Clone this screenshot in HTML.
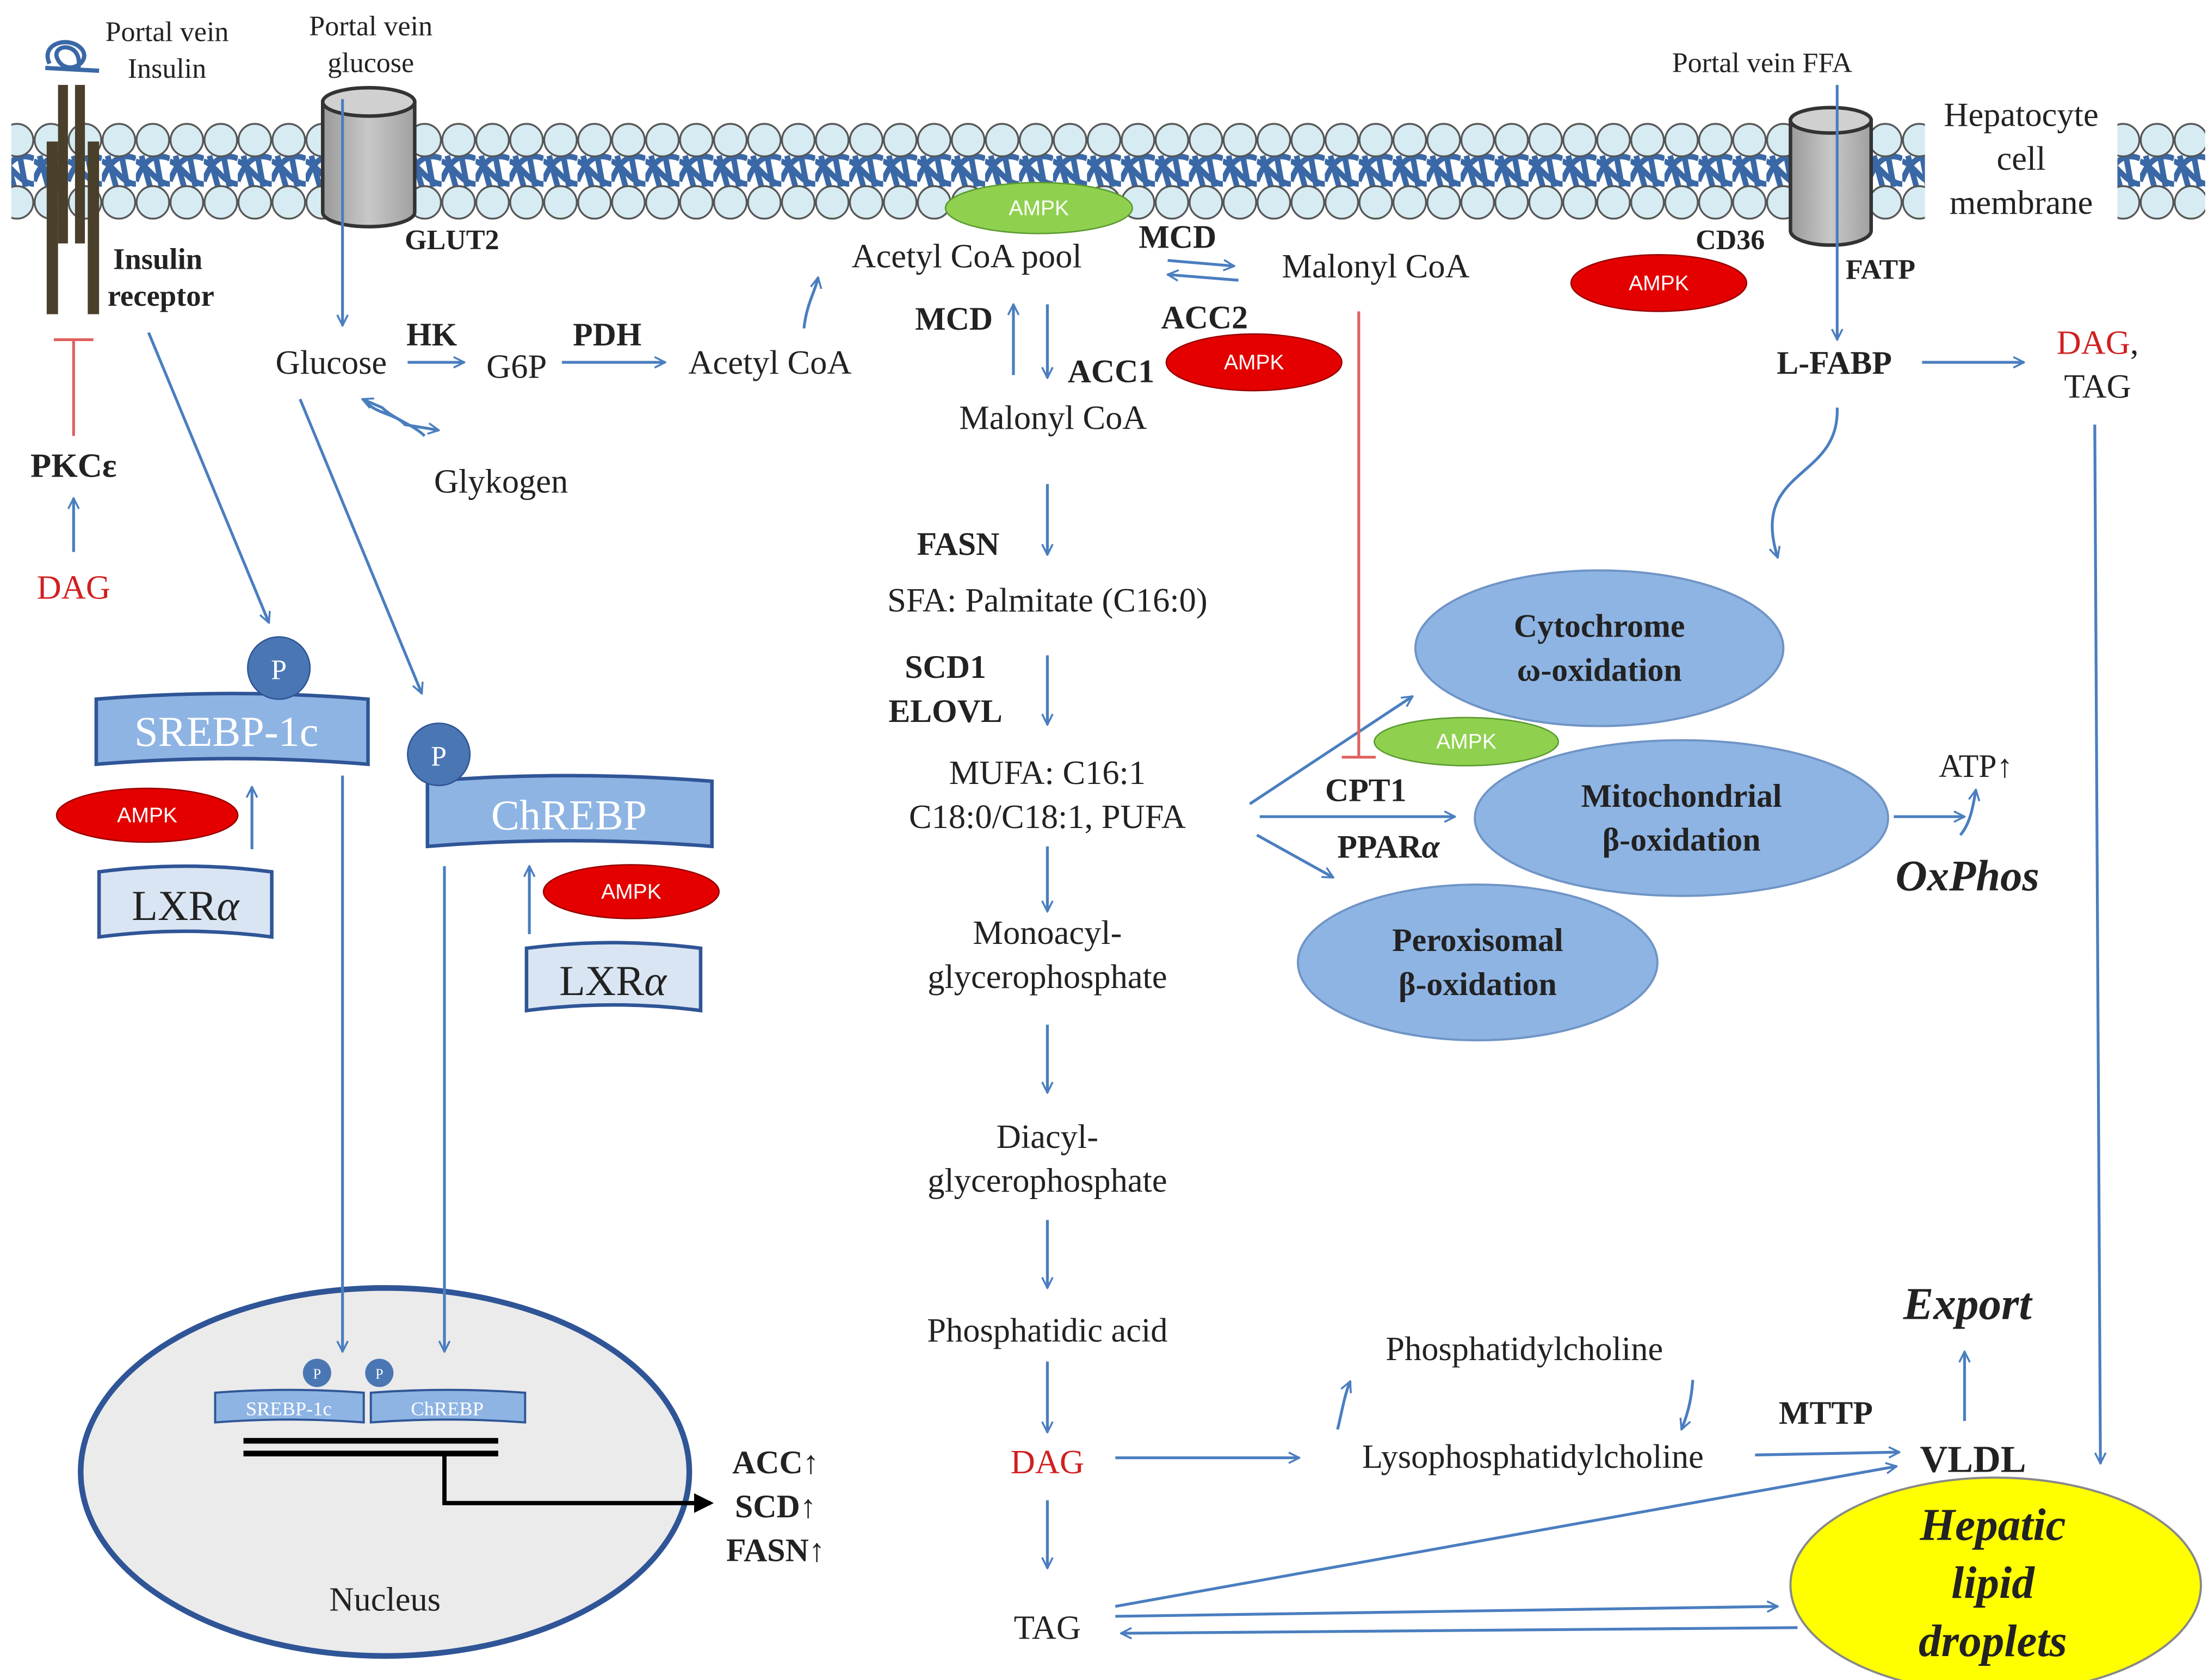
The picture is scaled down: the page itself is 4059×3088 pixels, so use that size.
<!DOCTYPE html>
<html><head><meta charset="utf-8">
<style>
html,body{margin:0;padding:0;background:#fff;}
svg{display:block;}
text{font-family:"Liberation Serif",serif;fill:#222;}
.b{font-weight:bold;}
</style></head>
<body>
<svg width="4059" height="3088" viewBox="0 0 1560 1187" preserveAspectRatio="none" xmlns="http://www.w3.org/2000/svg">
<defs>
<marker id="a" viewBox="0 0 12 12" refX="11" refY="6" markerWidth="9" markerHeight="9" orient="auto" markerUnits="userSpaceOnUse">
<path d="M1 1 L11 6 L1 11" fill="none" stroke="#4a7ebf" stroke-width="1.8"/></marker>
<marker id="k" viewBox="0 0 12 12" refX="10" refY="6" markerWidth="14" markerHeight="14" orient="auto" markerUnits="userSpaceOnUse">
<path d="M0 0 L12 6 L0 12 Z" fill="#000"/></marker>
<pattern id="mem" x="0" y="86" width="24" height="70" patternUnits="userSpaceOnUse">
<path d="M0 42 C6 26 14 22 24 26 M0 28 C8 30 14 44 24 44 M4 24 L10 46 M14 24 L18 46" fill="none" stroke="#3a68a6" stroke-width="4"/>
<circle cx="12" cy="13" r="11.5" fill="#d6ebf2" stroke="#555" stroke-width="1.3"/>
<circle cx="12" cy="57" r="11.5" fill="#d6ebf2" stroke="#555" stroke-width="1.3"/>
</pattern>
<linearGradient id="cyl" x1="0" x2="1"><stop offset="0" stop-color="#9a9a9a"/><stop offset="0.5" stop-color="#c8c8c8"/><stop offset="1" stop-color="#a0a0a0"/></linearGradient>
</defs>
<rect width="1560" height="1187" fill="#fff"/>
<!-- membrane -->
<rect x="8" y="86" width="1550" height="70" fill="url(#mem)"/>
<rect x="1360" y="64" width="136" height="92" fill="#fff"/>

<!-- insulin receptor -->
<rect x="33" y="100" width="8" height="122" fill="#4a3f2a"/>
<rect x="62" y="100" width="8" height="122" fill="#4a3f2a"/>
<rect x="41" y="60" width="7" height="112" fill="#4a3f2a"/>
<rect x="53" y="60" width="7" height="112" fill="#4a3f2a"/>
<path d="M35 45 C28 30 50 25 58 35 C65 45 45 55 40 40 C38 30 60 30 55 50 M32 48 L70 50" fill="none" stroke="#3a68a6" stroke-width="3"/>

<!-- GLUT2 cylinder -->
<path d="M228 72 L228 150 A32 10 0 0 0 293 150 L293 72 Z" fill="url(#cyl)" stroke="#333" stroke-width="2.5"/>
<ellipse cx="260.5" cy="72" rx="32.5" ry="10" fill="#d0d0d0" stroke="#333" stroke-width="2.5"/>
<!-- CD36 cylinder -->
<path d="M1265 85 L1265 163 A28 10 0 0 0 1322 163 L1322 85 Z" fill="url(#cyl)" stroke="#333" stroke-width="2.5"/>
<ellipse cx="1293.5" cy="85" rx="28.5" ry="9" fill="#d0d0d0" stroke="#333" stroke-width="2.5"/>

<!-- ellipses -->
<g stroke="#6f94c6" stroke-width="1.5" fill="#8eb4e3">
<ellipse cx="1130" cy="458" rx="130" ry="55"/>
<ellipse cx="1188" cy="578" rx="146" ry="55"/>
<ellipse cx="1044" cy="680" rx="127" ry="55"/>
</g>
<ellipse cx="1410" cy="1120" rx="145" ry="76" fill="#ffff00" stroke="#888" stroke-width="1.5"/>
<ellipse cx="272" cy="1040" rx="215" ry="130" fill="#ebebeb" stroke="#2f5597" stroke-width="4"/>

<!-- AMPK -->
<g font-size="15" text-anchor="middle">
<ellipse cx="734" cy="147" rx="66" ry="18" fill="#8fd14f" stroke="#5a9a30"/><text x="734" y="152" style="fill:#fff;font-family:'Liberation Sans',sans-serif">AMPK</text>
<ellipse cx="1036" cy="524" rx="65" ry="17" fill="#8fd14f" stroke="#5a9a30"/><text x="1036" y="529" style="fill:#fff;font-family:'Liberation Sans',sans-serif">AMPK</text>
<ellipse cx="1172" cy="200" rx="62" ry="20" fill="#e50000" stroke="#900"/><text x="1172" y="205" style="fill:#fff;font-family:'Liberation Sans',sans-serif">AMPK</text>
<ellipse cx="886" cy="256" rx="62" ry="20" fill="#e50000" stroke="#900"/><text x="886" y="261" style="fill:#fff;font-family:'Liberation Sans',sans-serif">AMPK</text>
<ellipse cx="104" cy="576" rx="64" ry="19" fill="#e50000" stroke="#900"/><text x="104" y="581" style="fill:#fff;font-family:'Liberation Sans',sans-serif">AMPK</text>
<ellipse cx="446" cy="630" rx="62" ry="19" fill="#e50000" stroke="#900"/><text x="446" y="635" style="fill:#fff;font-family:'Liberation Sans',sans-serif">AMPK</text>
</g>

<!-- banners -->
<path d="M68 494 Q164 486 260 494 L260 540 Q164 532 68 540 Z" fill="#8eb4e3" stroke="#2f5597" stroke-width="2.5"/>
<circle cx="197" cy="472" r="22" fill="#4a77b4" stroke="#2f5597"/><text x="197" y="480" font-size="20" text-anchor="middle" style="fill:#fff">P</text>
<text x="160" y="527" font-size="30" text-anchor="middle" style="fill:#fff">SREBP-1c</text>
<path d="M302 552 Q402 544 503 552 L503 598 Q402 590 302 598 Z" fill="#8eb4e3" stroke="#2f5597" stroke-width="2.5"/>
<circle cx="310" cy="533" r="22" fill="#4a77b4" stroke="#2f5597"/><text x="310" y="541" font-size="20" text-anchor="middle" style="fill:#fff">P</text>
<text x="402" y="586" font-size="30" text-anchor="middle" style="fill:#fff">ChREBP</text>
<path d="M70 616 Q131 608 192 616 L192 662 Q131 654 70 662 Z" fill="#dae5f3" stroke="#2f5597" stroke-width="2.5"/>
<text x="131" y="650" font-size="30" text-anchor="middle">LXR<tspan font-style="italic">α</tspan></text>
<path d="M372 670 Q433 662 495 670 L495 714 Q433 706 372 714 Z" fill="#dae5f3" stroke="#2f5597" stroke-width="2.5"/>
<text x="433" y="703" font-size="30" text-anchor="middle">LXR<tspan font-style="italic">α</tspan></text>

<!-- nucleus contents -->
<path d="M152 984 Q204 980 257 984 L257 1005 Q204 1001 152 1005 Z" fill="#8eb4e3" stroke="#2f5597" stroke-width="1.5"/>
<text x="204" y="1000" font-size="14" text-anchor="middle" style="fill:#fff">SREBP-1c</text>
<path d="M262 984 Q316 980 371 984 L371 1005 Q316 1001 262 1005 Z" fill="#8eb4e3" stroke="#2f5597" stroke-width="1.5"/>
<text x="316" y="1000" font-size="14" text-anchor="middle" style="fill:#fff">ChREBP</text>
<circle cx="224" cy="970" r="10" fill="#4a77b4"/><text x="224" y="974" font-size="10" text-anchor="middle" style="fill:#fff">P</text>
<circle cx="268" cy="970" r="10" fill="#4a77b4"/><text x="268" y="974" font-size="10" text-anchor="middle" style="fill:#fff">P</text>
<line x1="172" y1="1018" x2="352" y2="1018" stroke="#000" stroke-width="4"/>
<line x1="172" y1="1027" x2="352" y2="1027" stroke="#000" stroke-width="4"/>
<path d="M314 1027 L314 1062 L502 1062" fill="none" stroke="#000" stroke-width="3" marker-end="url(#k)"/>
<text x="272" y="1138" font-size="24" text-anchor="middle">Nucleus</text>

<!-- blue arrows -->
<g stroke="#4a7ebf" stroke-width="2" fill="none" marker-end="url(#a)">
<line x1="242" y1="70" x2="242" y2="230"/>
<line x1="105" y1="235" x2="190" y2="440"/>
<line x1="212" y1="282" x2="298" y2="490"/>
<line x1="52" y1="390" x2="52" y2="352"/>
<line x1="178" y1="600" x2="178" y2="556"/>
<line x1="374" y1="660" x2="374" y2="612"/>
<line x1="242" y1="548" x2="242" y2="955"/>
<line x1="314" y1="612" x2="314" y2="955"/>
<line x1="288" y1="256" x2="328" y2="256"/>
<line x1="397" y1="256" x2="470" y2="256"/>
<path d="M568 232 C570 214 576 206 578 196"/>
<line x1="716" y1="265" x2="716" y2="215"/>
<line x1="740" y1="215" x2="740" y2="267"/>
<line x1="825" y1="184" x2="872" y2="188"/>
<line x1="875" y1="198" x2="825" y2="194"/>
<line x1="740" y1="342" x2="740" y2="392"/>
<line x1="740" y1="463" x2="740" y2="512"/>
<line x1="740" y1="598" x2="740" y2="644"/>
<line x1="740" y1="724" x2="740" y2="772"/>
<line x1="740" y1="862" x2="740" y2="910"/>
<line x1="740" y1="962" x2="740" y2="1012"/>
<line x1="740" y1="1060" x2="740" y2="1108"/>
<line x1="883" y1="568" x2="998" y2="492"/>
<line x1="890" y1="577" x2="1028" y2="577"/>
<line x1="888" y1="590" x2="942" y2="620"/>
<line x1="1338" y1="577" x2="1388" y2="577"/>
<path d="M1385 590 C1392 582 1394 570 1396 558"/>
<line x1="1298" y1="60" x2="1298" y2="240"/>
<line x1="1358" y1="256" x2="1430" y2="256"/>
<path d="M1298 288 C1300 340 1236 330 1256 394"/>
<line x1="1480" y1="300" x2="1484" y2="1034"/>
<line x1="788" y1="1030" x2="918" y2="1030"/>
<path d="M945 1010 C948 998 950 985 954 976"/>
<path d="M1196 975 C1195 990 1192 1000 1188 1010"/>
<line x1="1240" y1="1028" x2="1342" y2="1026"/>
<line x1="1388" y1="1004" x2="1388" y2="955"/>
<line x1="788" y1="1135" x2="1340" y2="1036"/>
<line x1="788" y1="1142" x2="1256" y2="1135"/>
<line x1="1270" y1="1150" x2="792" y2="1154"/>
<path d="M258 282 C262 292 280 292 286 300 L310 304" />
<path d="M300 308 C292 300 278 296 270 288 L256 282" />
</g>
<!-- inhibition lines -->
<g stroke="#e06060" stroke-width="2">
<line x1="52" y1="308" x2="52" y2="240"/><line x1="38" y1="240" x2="66" y2="240"/>
<line x1="960" y1="220" x2="960" y2="535"/><line x1="948" y1="535" x2="972" y2="535"/>
</g>

<!-- labels -->
<g font-size="22">
<text x="118" y="29" text-anchor="middle" font-size="20">Portal vein</text>
<text x="118" y="55" text-anchor="middle" font-size="20">Insulin</text>
<text x="262" y="25" text-anchor="middle" font-size="20">Portal vein</text>
<text x="262" y="51" text-anchor="middle" font-size="20">glucose</text>
<text x="1245" y="51" text-anchor="middle" font-size="20">Portal vein FFA</text>
<text x="1428" y="89" text-anchor="middle" font-size="24">Hepatocyte</text>
<text x="1428" y="120" text-anchor="middle" font-size="24">cell</text>
<text x="1428" y="151" text-anchor="middle" font-size="24">membrane</text>
<text x="286" y="176" class="b" font-size="20">GLUT2</text>
<text x="1198" y="176" class="b" font-size="20">CD36</text>
<text x="1304" y="197" class="b" font-size="20">FATP</text>
<text x="80" y="190" class="b" font-size="21">Insulin</text>
<text x="76" y="216" class="b" font-size="21">receptor</text>
<text x="52" y="337" text-anchor="middle" class="b" font-size="24">PKCε</text>
<text x="52" y="423" text-anchor="middle" font-size="24" style="fill:#d02020">DAG</text>
<text x="234" y="264" text-anchor="middle" font-size="24">Glucose</text>
<text x="305" y="244" text-anchor="middle" class="b" font-size="23">HK</text>
<text x="365" y="267" text-anchor="middle" font-size="24">G6P</text>
<text x="429" y="244" text-anchor="middle" class="b" font-size="23">PDH</text>
<text x="544" y="264" text-anchor="middle" font-size="24">Acetyl CoA</text>
<text x="354" y="348" text-anchor="middle" font-size="24">Glykogen</text>
<text x="683" y="189" text-anchor="middle" font-size="24">Acetyl CoA pool</text>
<text x="832" y="175" text-anchor="middle" class="b" font-size="23">MCD</text>
<text x="972" y="196" text-anchor="middle" font-size="24">Malonyl CoA</text>
<text x="674" y="233" text-anchor="middle" class="b" font-size="23">MCD</text>
<text x="851" y="232" text-anchor="middle" class="b" font-size="23">ACC2</text>
<text x="785" y="270" text-anchor="middle" class="b" font-size="23">ACC1</text>
<text x="744" y="303" text-anchor="middle" font-size="24">Malonyl CoA</text>
<text x="677" y="392" text-anchor="middle" class="b" font-size="23">FASN</text>
<text x="740" y="432" text-anchor="middle" font-size="24">SFA: Palmitate (C16:0)</text>
<text x="668" y="479" text-anchor="middle" class="b" font-size="23">SCD1</text>
<text x="668" y="510" text-anchor="middle" class="b" font-size="23">ELOVL</text>
<text x="740" y="554" text-anchor="middle" font-size="24">MUFA: C16:1</text>
<text x="740" y="585" text-anchor="middle" font-size="24">C18:0/C18:1, PUFA</text>
<text x="740" y="667" text-anchor="middle" font-size="24">Monoacyl-</text>
<text x="740" y="698" text-anchor="middle" font-size="24">glycerophosphate</text>
<text x="740" y="811" text-anchor="middle" font-size="24">Diacyl-</text>
<text x="740" y="842" text-anchor="middle" font-size="24">glycerophosphate</text>
<text x="740" y="948" text-anchor="middle" font-size="24">Phosphatidic acid</text>
<text x="740" y="1041" text-anchor="middle" font-size="24" style="fill:#d02020">DAG</text>
<text x="740" y="1158" text-anchor="middle" font-size="24">TAG</text>
<text x="965" y="566" text-anchor="middle" class="b" font-size="23">CPT1</text>
<text x="981" y="606" text-anchor="middle" class="b" font-size="23">PPAR<tspan font-style="italic">α</tspan></text>
<text x="1130" y="450" text-anchor="middle" class="b" font-size="23">Cytochrome</text>
<text x="1130" y="481" text-anchor="middle" class="b" font-size="23">ω-oxidation</text>
<text x="1188" y="570" text-anchor="middle" class="b" font-size="23">Mitochondrial</text>
<text x="1188" y="601" text-anchor="middle" class="b" font-size="23">β-oxidation</text>
<text x="1044" y="672" text-anchor="middle" class="b" font-size="23">Peroxisomal</text>
<text x="1044" y="703" text-anchor="middle" class="b" font-size="23">β-oxidation</text>
<text x="1396" y="549" text-anchor="middle" font-size="23">ATP↑</text>
<text x="1390" y="629" text-anchor="middle" class="b" font-style="italic" font-size="31">OxPhos</text>
<text x="1296" y="264" text-anchor="middle" class="b" font-size="23">L-FABP</text>
<text x="1482" y="250" text-anchor="middle" font-size="24"><tspan style="fill:#d02020">DAG</tspan>,</text>
<text x="1482" y="281" text-anchor="middle" font-size="24">TAG</text>
<text x="1390" y="932" text-anchor="middle" class="b" font-style="italic" font-size="32">Export</text>
<text x="1077" y="961" text-anchor="middle" font-size="24">Phosphatidylcholine</text>
<text x="1083" y="1037" text-anchor="middle" font-size="24">Lysophosphatidylcholine</text>
<text x="1290" y="1006" text-anchor="middle" class="b" font-size="23">MTTP</text>
<text x="1394" y="1040" text-anchor="middle" class="b" font-size="27">VLDL</text>
<text x="1408" y="1088" text-anchor="middle" class="b" font-style="italic" font-size="32">Hepatic</text>
<text x="1408" y="1129" text-anchor="middle" class="b" font-style="italic" font-size="32">lipid</text>
<text x="1408" y="1170" text-anchor="middle" class="b" font-style="italic" font-size="32">droplets</text>
<text x="548" y="1041" text-anchor="middle" class="b" font-size="23">ACC↑</text>
<text x="548" y="1072" text-anchor="middle" class="b" font-size="23">SCD↑</text>
<text x="548" y="1103" text-anchor="middle" class="b" font-size="23">FASN↑</text>
</g>
</svg>
</body></html>
